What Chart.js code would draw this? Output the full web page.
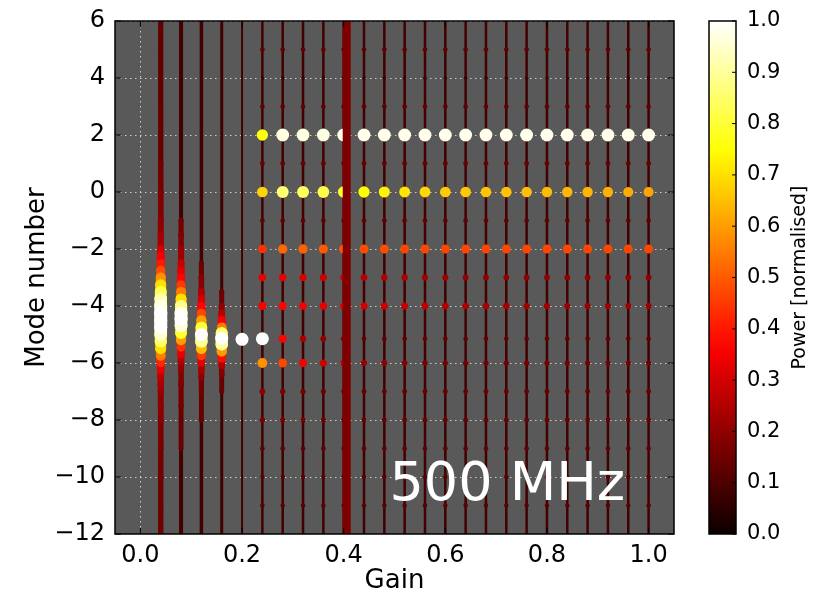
<!DOCTYPE html>
<html>
<head>
<meta charset="utf-8">
<script src="https://cdn.jsdelivr.net/npm/chart.js@4.4.1/dist/chart.umd.min.js"></script>
<style>
html, body { margin: 0; padding: 0; background: #fff; }
</style>
</head>
<body>
<canvas id="myChart" width="823" height="594"></canvas>
<script>
// 軸の範囲と目盛り
const xMin = -0.05, xMax = 1.05;
const yMin = -12, yMax = 6;
const xTicks = [0.0, 0.2, 0.4, 0.6, 0.8, 1.0];
const yTicks = [-12, -10, -8, -6, -4, -2, 0, 2, 4, 6];
const cbTicks = [0.0, 0.1, 0.2, 0.3, 0.4, 0.5, 0.6, 0.7, 0.8, 0.9, 1.0];

// 利得 (縦線を引く列)
const gains = [0.04, 0.08, 0.12, 0.16, 0.20, 0.24, 0.28, 0.32, 0.36, 0.40, 0.44, 0.48, 0.52,
               0.56, 0.60, 0.64, 0.68, 0.72, 0.76, 0.80, 0.84, 0.88, 0.92, 0.96, 1.00];
// 太い縦帯の位置
const barGain = 0.406;

// 0.24以降の列の点 (モード番号 × 利得)
const dotGains = [0.24, 0.28, 0.32, 0.36, 0.40, 0.44, 0.48, 0.52, 0.56, 0.60,
                  0.64, 0.68, 0.72, 0.76, 0.80, 0.84, 0.88, 0.92, 0.96, 1.00];
const dotModes = [5, 4, 3, 2, 1, 0, -1, -2, -3, -4, -5.15, -6, -7, -8, -9, -10, -11];
const dotPower = [
  [0.13, 0.13, 0.13, 0.13, 0.13, 0.13, 0.13, 0.13, 0.13, 0.13, 0.13, 0.13, 0.13, 0.13, 0.13, 0.13, 0.13, 0.13, 0.13, 0.13],
  [0.08, 0.08, 0.08, 0.08, 0.08, 0.08, 0.08, 0.08, 0.08, 0.08, 0.08, 0.08, 0.08, 0.08, 0.08, 0.08, 0.08, 0.08, 0.08, 0.08],
  [0.13, 0.13, 0.13, 0.13, 0.13, 0.13, 0.13, 0.13, 0.13, 0.13, 0.13, 0.13, 0.13, 0.13, 0.13, 0.13, 0.13, 0.13, 0.13, 0.13],
  [0.76, 0.97, 0.97, 0.97, 0.98, 0.98, 0.98, 0.98, 0.98, 0.98, 0.98, 0.98, 0.98, 0.98, 0.98, 0.98, 0.98, 0.98, 0.98, 0.98],
  [0.14, 0.14, 0.14, 0.14, 0.14, 0.14, 0.14, 0.14, 0.14, 0.14, 0.14, 0.14, 0.14, 0.14, 0.14, 0.14, 0.14, 0.14, 0.14, 0.14],
  [0.68, 0.86, 0.84, 0.82, 0.79, 0.75, 0.73, 0.71, 0.69, 0.67, 0.665, 0.66, 0.655, 0.65, 0.645, 0.64, 0.635, 0.63, 0.62, 0.61],
  [0.13, 0.13, 0.13, 0.13, 0.13, 0.13, 0.13, 0.13, 0.13, 0.13, 0.13, 0.13, 0.13, 0.13, 0.13, 0.13, 0.13, 0.13, 0.13, 0.13],
  [0.44, 0.52, 0.51, 0.50, 0.49, 0.48, 0.48, 0.47, 0.47, 0.47, 0.47, 0.47, 0.47, 0.47, 0.47, 0.47, 0.47, 0.47, 0.47, 0.47],
  [0.33, 0.33, 0.31, 0.29, 0.28, 0.26, 0.25, 0.24, 0.23, 0.22, 0.21, 0.20, 0.20, 0.20, 0.20, 0.20, 0.20, 0.20, 0.20, 0.20],
  [0.36, 0.37, 0.35, 0.33, 0.31, 0.30, 0.29, 0.28, 0.27, 0.26, 0.25, 0.24, 0.24, 0.23, 0.23, 0.22, 0.22, 0.22, 0.22, 0.22],
  [1.00, 0.37, 0.24, 0.20, 0.18, 0.13, 0.13, 0.13, 0.13, 0.13, 0.13, 0.13, 0.13, 0.13, 0.13, 0.13, 0.13, 0.13, 0.13, 0.13],
  [0.58, 0.47, 0.36, 0.30, 0.26, 0.22, 0.20, 0.19, 0.17, 0.16, 0.16, 0.16, 0.16, 0.16, 0.16, 0.16, 0.16, 0.16, 0.16, 0.16],
  [0.20, 0.17, 0.16, 0.15, 0.14, 0.14, 0.14, 0.14, 0.14, 0.14, 0.14, 0.14, 0.14, 0.14, 0.14, 0.14, 0.14, 0.14, 0.14, 0.14],
  [0.17, 0.16, 0.16, 0.15, 0.14, 0.14, 0.14, 0.14, 0.14, 0.14, 0.14, 0.14, 0.14, 0.14, 0.14, 0.14, 0.14, 0.14, 0.14, 0.14],
  [0.13, 0.13, 0.13, 0.13, 0.13, 0.13, 0.13, 0.13, 0.13, 0.13, 0.13, 0.13, 0.13, 0.13, 0.13, 0.13, 0.13, 0.13, 0.13, 0.13],
  [0.12, 0.12, 0.12, 0.12, 0.12, 0.12, 0.12, 0.12, 0.12, 0.12, 0.12, 0.12, 0.12, 0.12, 0.12, 0.12, 0.12, 0.12, 0.12, 0.12],
  [0.12, 0.12, 0.12, 0.12, 0.12, 0.12, 0.12, 0.12, 0.12, 0.12, 0.12, 0.12, 0.12, 0.12, 0.12, 0.12, 0.12, 0.12, 0.12, 0.12]
];

// 低利得の列のスペクトル [モード番号, パワー]
const strip004 = [[6, 0.13], [5, 0.13], [4, 0.13], [3, 0.14], [2, 0.14], [1, 0.16], [0, 0.18], [-1, 0.2],
  [-1.5, 0.23], [-2, 0.3], [-2.25, 0.35], [-2.5, 0.4], [-2.75, 0.48], [-3, 0.58], [-3.25, 0.7], [-3.5, 0.82],
  [-3.75, 0.92], [-4, 0.97], [-4.25, 1], [-4.5, 1], [-4.75, 1], [-5, 0.95], [-5.25, 0.85], [-5.5, 0.7],
  [-5.75, 0.55], [-6, 0.42], [-6.25, 0.33], [-6.5, 0.27], [-6.75, 0.24], [-7, 0.22], [-7.5, 0.2], [-8, 0.19],
  [-9, 0.17], [-10, 0.16], [-11, 0.15], [-12, 0.15]];
const strip008 = [[-1, 0.16], [-1.5, 0.18], [-2, 0.22], [-2.5, 0.28], [-2.75, 0.32], [-3, 0.37], [-3.25, 0.45],
  [-3.5, 0.55], [-3.75, 0.7], [-4, 0.88], [-4.25, 0.98], [-4.45, 1], [-4.7, 0.96], [-4.95, 0.8], [-5.2, 0.6],
  [-5.45, 0.44], [-5.7, 0.33], [-5.95, 0.26], [-6.25, 0.21], [-6.75, 0.18], [-7.5, 0.16], [-9, 0.14]];
const strip012 = [[-2.5, 0.15], [-3, 0.19], [-3.5, 0.25], [-3.75, 0.3], [-4, 0.37], [-4.25, 0.47], [-4.5, 0.6],
  [-4.75, 0.8], [-5, 1], [-5.25, 0.9], [-5.5, 0.65], [-5.75, 0.45], [-6, 0.32], [-6.25, 0.24], [-6.5, 0.2],
  [-7, 0.16], [-8, 0.14]];
const strip016 = [[-3.5, 0.15], [-4, 0.2], [-4.25, 0.26], [-4.5, 0.36], [-4.75, 0.55], [-4.95, 0.85], [-5.13, 1],
  [-5.35, 0.9], [-5.6, 0.6], [-5.85, 0.38], [-6.1, 0.25], [-6.4, 0.18], [-7, 0.14]];
const strip020 = [[-5.17, 1]];
const strips = [[0.04, strip004], [0.08, strip008], [0.12, strip012], [0.16, strip016], [0.20, strip020]];


// hot カラーマップ
function hot(p){
    const c = v => Math.round(255 * Math.min(1, Math.max(0, v)));
    const r = 0.0416 + 0.9584 * p / 0.365079;
    const g = (p - 0.365079) / (0.746032 - 0.365079);
    const b = (p - 0.746032) / (1 - 0.746032);
    return 'rgb(' + c(r) + ',' + c(g) + ',' + c(b) + ')';
}
// パワーから点の半径
function rad(p){
    return 6.5 * Math.sqrt(p);
}

// 点のデータを作る (明るい点が上に来るように並べ替え)
let dots = [];
dotModes.forEach((m, r) => {
    dotGains.forEach((g, k) => dots.push({x: g, y: m, p: dotPower[r][k]}));
});
for (const [g, pts] of strips){
    for (const [m, p] of pts) dots.push({x: g, y: m, p: p});
}
dots.sort((a, b) => a.p - b.p);

// 縦線の太さ・色
const lineWidths = gains.map((g, i) => [5, 4, 3.5, 3, 2][i] || 2.5);
const lineColors = gains.map((g, i) => i === 0 ? '#5a0000' : '#420000');

let datasets = [];
datasets.push({
    data: [{x: barGain, y: yMin}, {x: barGain, y: yMax}],
    showLine: true,
    borderColor: '#800000',
    borderWidth: 8,
    borderCapStyle: 'butt',
    pointRadius: 0,
    order: 0
});
datasets.push({
    data: dots,
    pointRadius: ctx => rad(ctx.raw.p),
    pointBackgroundColor: ctx => hot(ctx.raw.p),
    pointBorderWidth: 0,
    borderWidth: 0,
    order: 1
});
// 低利得の列: 点の間を太さの変わる線でつなぐ
for (const [g, pts] of strips){
    if (pts.length < 2) continue;
    const pm = c => Math.min(pts[c.p0DataIndex][1], pts[c.p1DataIndex][1]);
    datasets.push({
        data: pts.map(([m, p]) => ({x: g, y: m})),
        showLine: true,
        pointRadius: 0,
        borderCapStyle: 'round',
        borderJoinStyle: 'round',
        borderColor: hot(0.15),
        borderWidth: 2,
        segment: {
            borderWidth: c => 2 * rad(pm(c)),
            borderColor: c => hot(pm(c))
        },
        order: 1.5
    });
}
gains.forEach((g, i) => {
    datasets.push({
        data: [{x: g, y: yMin}, {x: g, y: yMax}],
        showLine: true,
        borderColor: lineColors[i],
        borderWidth: lineWidths[i],
        pointRadius: 0,
        order: 2
    });
});

const FONT = "'DejaVu Sans', sans-serif";

// 背景・枠・カラーバー・注記
const decoPlugin = {
    id: 'deco',
    beforeDraw(chart){
        const {ctx, chartArea: a} = chart;
        ctx.save();
        ctx.fillStyle = '#595959';
        ctx.fillRect(a.left, a.top, a.width, a.height);
        ctx.restore();
    },
    afterDraw(chart){
        const {ctx, chartArea: a, scales} = chart;
        const sx = scales.x, sy = scales.y, cb = scales.cb;
        ctx.save();

        // 500 MHz
        ctx.fillStyle = '#ffffff';
        ctx.font = '54px ' + FONT;
        ctx.textAlign = 'left';
        ctx.textBaseline = 'alphabetic';
        ctx.fillText('500 MHz', sx.getPixelForValue(0.49), sy.getPixelForValue(-10.8));

        // 枠と内向きの目盛り
        ctx.strokeStyle = '#000';
        ctx.lineWidth = 1.5;
        ctx.strokeRect(a.left, a.top, a.width, a.height);
        ctx.lineWidth = 1;
        ctx.beginPath();
        for (const v of xTicks){
            const px = sx.getPixelForValue(v);
            ctx.moveTo(px, a.bottom); ctx.lineTo(px, a.bottom - 6);
            ctx.moveTo(px, a.top); ctx.lineTo(px, a.top + 6);
        }
        for (const v of yTicks){
            const py = sy.getPixelForValue(v);
            ctx.moveTo(a.left, py); ctx.lineTo(a.left + 6, py);
            ctx.moveTo(a.right, py); ctx.lineTo(a.right - 6, py);
        }
        ctx.stroke();

        // カラーバー
        const x0 = cb.left + 35, x1 = cb.left + 62;
        const yb = cb.getPixelForValue(0), yt = cb.getPixelForValue(1);
        const grad = ctx.createLinearGradient(0, yb, 0, yt);
        for (let i = 0; i <= 20; i++) grad.addColorStop(i / 20, hot(i / 20));
        ctx.fillStyle = grad;
        ctx.fillRect(x0, yt, x1 - x0, yb - yt);
        ctx.strokeStyle = '#000';
        ctx.lineWidth = 1.5;
        ctx.strokeRect(x0, yt, x1 - x0, yb - yt);
        ctx.lineWidth = 1;
        ctx.beginPath();
        for (const v of cbTicks){
            const py = cb.getPixelForValue(v);
            ctx.moveTo(x1, py); ctx.lineTo(x1 - 4, py);
        }
        ctx.stroke();

        // カラーバーのラベル
        ctx.fillStyle = '#000';
        ctx.font = '19px ' + FONT;
        ctx.textAlign = 'center';
        ctx.textBaseline = 'alphabetic';
        ctx.translate(805, (yt + yb) / 2);
        ctx.rotate(-Math.PI / 2);
        ctx.fillText('Power [normalised]', 0, 0);
        ctx.restore();
    }
};

Chart.defaults.color = '#000';
Chart.defaults.font.family = FONT;

let ctx = document.getElementById('myChart');
let myChart = new Chart(ctx, {
    type: 'scatter',
    data: { datasets: datasets },
    options: {
        responsive: false,
        animation: false,
        events: [],
        layout: { padding: { top: 21, left: 0, right: 0, bottom: 0 } },
        plugins: {
            legend: { display: false },
            tooltip: { enabled: false }
        },
        scales: {
            x: {
                type: 'linear',
                position: 'bottom',
                min: xMin,
                max: xMax,
                afterBuildTicks: s => { s.ticks = xTicks.map(v => ({value: v})); },
                afterFit: s => { s.height = 60; },
                ticks: {
                    font: { size: 24 },
                    padding: 7,
                    maxRotation: 0,
                    callback: v => Number(v).toFixed(1)
                },
                grid: { color: 'rgba(255,255,255,0.7)', lineWidth: 1, drawTicks: false },
                border: { display: false, dash: [1.5, 3.5] },
                title: {
                    display: true,
                    text: 'Gain',
                    font: { size: 26, lineHeight: 1 },
                    padding: { top: 0, bottom: 0 }
                }
            },
            y: {
                type: 'linear',
                position: 'left',
                min: yMin,
                max: yMax,
                afterBuildTicks: s => { s.ticks = yTicks.map(v => ({value: v})); },
                afterFit: s => { s.width = 115; },
                ticks: {
                    font: { size: 24 },
                    padding: 0,
                    callback: v => String(v).replace('-', '\u2212')
                },
                grid: { color: 'rgba(255,255,255,0.7)', lineWidth: 1, drawTicks: true, tickLength: 10, tickColor: 'rgba(0,0,0,0)' },
                border: { display: false, dash: [1.5, 3.5] },
                title: {
                    display: true,
                    text: 'Mode number',
                    font: { size: 26, lineHeight: 1 },
                    padding: { top: 24, bottom: 0 }
                }
            },
            cb: {
                type: 'linear',
                axis: 'y',
                position: 'right',
                min: 0,
                max: 1,
                afterBuildTicks: s => { s.ticks = cbTicks.map(v => ({value: v})); },
                afterFit: s => { s.width = 149; },
                ticks: {
                    font: { size: 21 },
                    padding: 0,
                    callback: v => Number(v).toFixed(1)
                },
                grid: { display: true, drawOnChartArea: false, drawTicks: true, tickLength: 73, tickColor: 'rgba(0,0,0,0)' },
                border: { display: false }
            }
        }
    },
    plugins: [decoPlugin]
});
</script>
</body>
</html>
